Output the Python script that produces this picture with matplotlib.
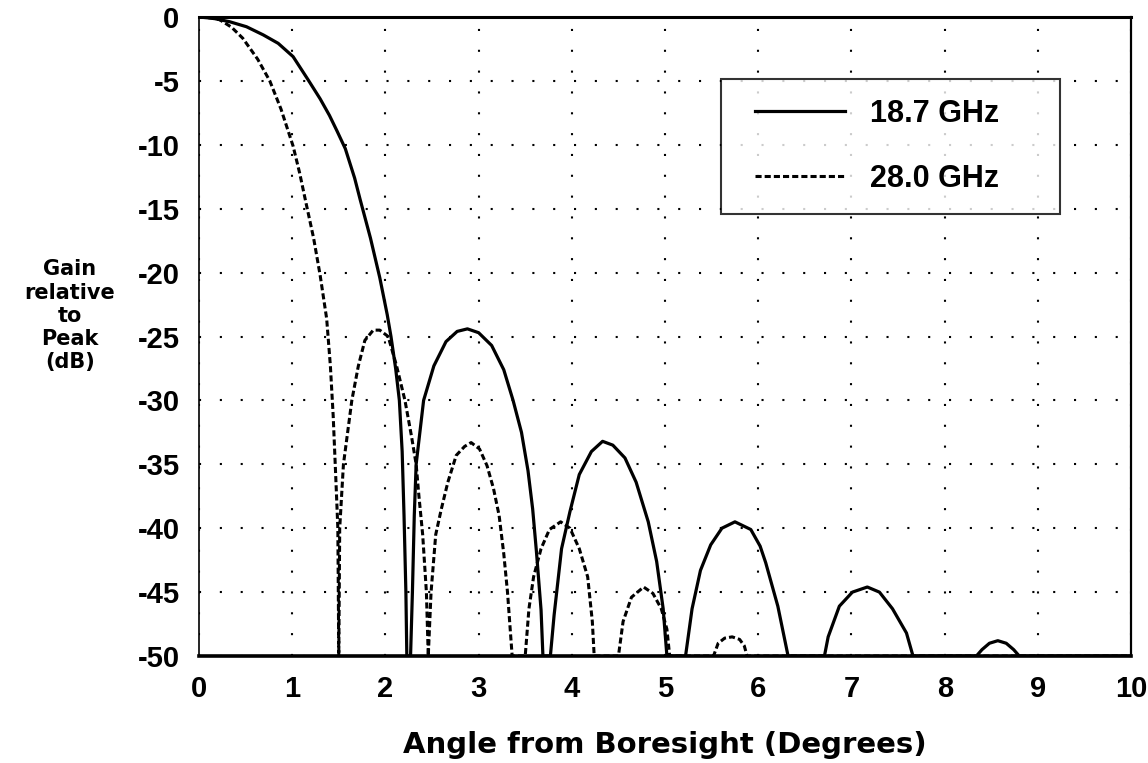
import numpy as np
import matplotlib
matplotlib.use("Agg")
import matplotlib.pyplot as plt
from matplotlib.lines import Line2D
from matplotlib.legend_handler import HandlerLine2D

plt.rcParams["axes.unicode_minus"] = False

# values (degrees, dB); nulls clipped at the -50 dB floor
angle_187 = [0.0, 0.15, 0.33, 0.51, 0.69, 0.85, 1.01, 1.17, 1.30, 1.40, 1.48, 1.57, 1.67, 1.73, 1.84, 1.94, 2.02,
             2.06, 2.11, 2.15, 2.18, 2.20, 2.22, 2.23,
             2.27, 2.29, 2.31, 2.33, 2.41, 2.52, 2.65, 2.77, 2.88, 3.00, 3.14, 3.27, 3.37, 3.46, 3.53, 3.58,
             3.62, 3.67, 3.69,
             3.77, 3.81, 3.89, 3.98, 4.08, 4.21, 4.33, 4.44, 4.57, 4.69, 4.82, 4.91, 4.98, 5.02,
             5.22, 5.29, 5.38, 5.49, 5.61, 5.75, 5.92, 6.02, 6.08, 6.21, 6.32,
             6.71, 6.75, 6.87, 7.01, 7.17, 7.30, 7.44, 7.59, 7.66,
             8.34, 8.40, 8.48, 8.57, 8.66, 8.74, 8.80, 10.0]
gain_187 = [0.0, -0.1, -0.37, -0.76, -1.4, -2.06, -3.1, -4.9, -6.4, -7.7, -8.9, -10.3, -12.6, -14.3, -17.3, -20.4, -23.3,
            -25.0, -27.5, -30.0, -34.0, -39.0, -45.0, -50.0,
            -50.0, -45.0, -39.0, -35.0, -30.0, -27.3, -25.4, -24.6, -24.4, -24.7, -25.7, -27.6, -30.0, -32.5, -35.5, -38.5,
            -41.8, -46.4, -50.0,
            -50.0, -46.8, -41.6, -38.7, -35.8, -34.0, -33.2, -33.5, -34.5, -36.4, -39.5, -42.6, -46.3, -50.0,
            -50.0, -46.3, -43.3, -41.3, -40.0, -39.5, -40.1, -41.4, -42.7, -46.1, -50.0,
            -50.0, -48.5, -46.1, -45.0, -44.6, -45.0, -46.3, -48.2, -50.0,
            -50.0, -49.5, -49.0, -48.8, -49.0, -49.5, -50.0, -50.0]

angle_280 = [0.0, 0.10, 0.22, 0.35, 0.47, 0.63, 0.76, 0.88, 1.01, 1.08, 1.15, 1.23, 1.30, 1.37, 1.41, 1.44,
             1.47, 1.49, 1.50,
             1.51, 1.55, 1.64, 1.71, 1.78, 1.87, 1.94, 2.03, 2.12, 2.21, 2.28, 2.33, 2.36, 2.40, 2.44, 2.46,
             2.49, 2.54, 2.60, 2.67, 2.76, 2.85, 2.92, 3.01, 3.09, 3.16, 3.22, 3.27, 3.31, 3.36,
             3.50, 3.54, 3.59, 3.67, 3.76, 3.88, 3.98, 4.08, 4.17, 4.22, 4.24,
             4.50, 4.55, 4.64, 4.77, 4.87, 4.96, 5.02, 5.05,
             5.52, 5.57, 5.64, 5.72, 5.80, 5.85, 5.88, 10.0]
gain_280 = [0.0, -0.05, -0.2, -0.8, -1.66, -3.3, -5.0, -7.2, -10.1, -12.2, -14.6, -17.3, -20.2, -23.6, -27.3, -31.2,
            -36.4, -40.0, -50.0,
            -40.0, -35.0, -30.0, -27.3, -25.3, -24.5, -24.5, -25.0, -27.3, -30.0, -32.8, -35.0, -37.5, -40.5, -45.0, -50.0,
            -45.0, -40.5, -38.5, -36.4, -34.3, -33.6, -33.3, -33.8, -35.1, -36.9, -39.0, -42.0, -45.0, -50.0,
            -50.0, -46.3, -43.8, -41.6, -40.1, -39.5, -40.0, -41.6, -43.8, -47.3, -50.0,
            -50.0, -47.3, -45.4, -44.6, -45.1, -46.3, -47.9, -50.0,
            -50.0, -49.0, -48.6, -48.5, -48.7, -49.2, -50.0, -50.0]

series_labels = ["18.7 GHz", "28.0 GHz"]
x_ticks = np.arange(0, 11, 1)
y_ticks = np.arange(-50, 1, 5)

fig = plt.figure(figsize=(11.48, 7.63), dpi=100)
ax = fig.add_axes([0.1733, 0.1402, 0.812, 0.8375])

ax.plot(angle_187, gain_187, color="black", lw=2.3, label=series_labels[0])
ax.plot(angle_280, gain_280, color="black", lw=2.2, linestyle=(0, (2, 1)), label=series_labels[1])

ax.set_xlim(0, 10)
ax.set_ylim(-50, 0)
ax.set_xticks(x_ticks)
ax.set_yticks(y_ticks)
ax.grid(True, color="black", linestyle=(0, (1, 9)), linewidth=1.5)
ax.tick_params(length=0, pad=14)
for lab in ax.get_xticklabels() + ax.get_yticklabels():
    lab.set_fontfamily("Liberation Sans")
    lab.set_fontweight("bold")
    lab.set_fontsize(21)

for side, w in (("left", 1.2), ("right", 1.6), ("top", 2.2), ("bottom", 2.6)):
    ax.spines[side].set_linewidth(w)
    ax.spines[side].set_color("black")

ax.set_xlabel("Angle from Boresight (Degrees)", fontsize=21, fontweight="bold", labelpad=20)
fig.text(0.061, 0.586, "Gain\nrelative\nto\nPeak\n(dB)", ha="center", va="center",
         fontsize=15, fontweight="bold", linespacing=1.2)

leg = ax.legend(loc="upper left", bbox_to_anchor=(0.560, 0.692, 0.364, 0.211), mode="expand",
                frameon=True, fancybox=False,
                prop={"family": "Liberation Sans", "weight": "bold", "size": 22},
                handler_map={Line2D: HandlerLine2D(xpad=0.45)}, handlelength=3.4,
                handletextpad=0.82, labelspacing=1.14, borderpad=0.65, borderaxespad=0)
leg.get_frame().set_edgecolor("black")
leg.get_frame().set_linewidth(1.5)

fig.savefig("out.png", dpi=100)
